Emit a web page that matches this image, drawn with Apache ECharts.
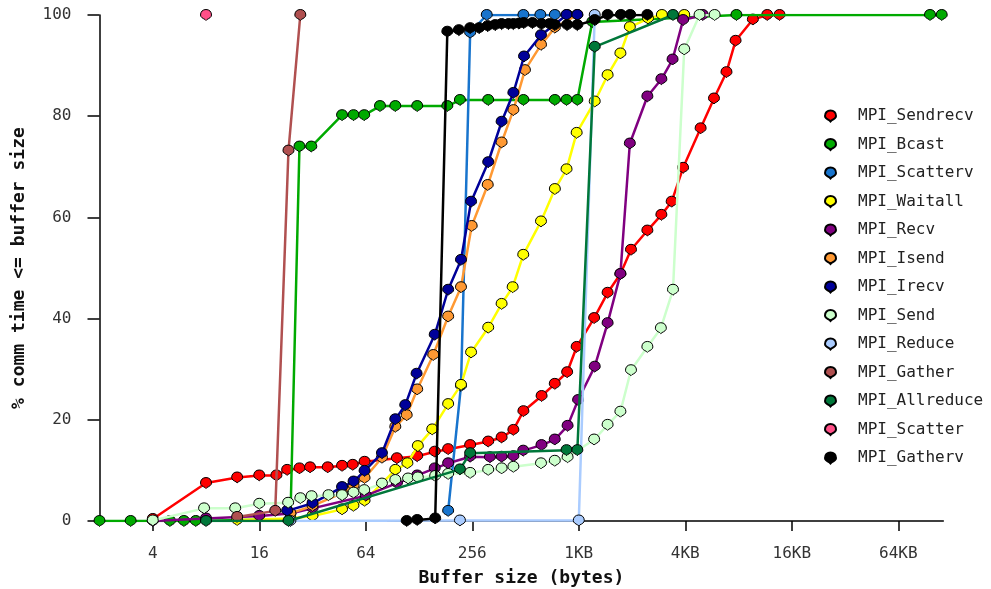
<!DOCTYPE html>
<html><head><meta charset="utf-8">
<script src="https://cdn.jsdelivr.net/npm/echarts@6/dist/echarts.min.js"></script>
<style>html,body{margin:0;padding:0;background:#fff}#c{width:991px;height:589px}</style>
</head><body><div id="c"></div>
<script>
// [buffer size (bytes), % comm time <= size]
const sendrecv = [[4,0.4],[8,7.5],[12,8.6],[16,9],[20,9],[23,10.1],[27,10.4],[31,10.6],[39,10.6],[47,10.9],[54,11.1],[63,11.7],[96,12.4],[125,12.8],[157,13.7],[187,14.2],[249,15],[315,15.7],[375,16.5],[437,18],[498,21.7],[631,24.7],[749,27.1],[880,29.4],[996,34.4],[1250,40.1],[1490,45.1],[1760,48.8],[2020,53.6],[2500,57.4],[3000,60.5],[3430,63.1],[3980,69.8],[5000,77.6],[5950,83.5],[7000,88.7],[7880,94.9],[9870,99.1],[11900,100],[13970,100]];
const bcast = [[2,0],[3,0],[5,0],[6,0],[7,0],[24,0.4],[27,74],[31.5,74],[47,80.2],[54.6,80.2],[62.7,80.2],[77,82],[94,82],[125,82],[185,82],[218,83.2],[315,83.2],[498,83.2],[750,83.2],[873,83.2],[1005,83.2],[1220,98.6],[7970,100],[99000,100],[115300,100]];
const scatterv = [[187,2],[221,26.7],[249,96.5],[309,100],[498,100],[621,100],[750,100],[880,100]];
const waitall = [[12,0.2],[24,0.5],[32,1],[47,2.3],[54.5,3],[63,4],[94,10.1],[110,11.4],[126,14.8],[152,18.1],[187,23.1],[221,26.9],[252,33.3],[315,38.2],[375,42.9],[433,46.2],[497,52.6],[626,59.2],[750,65.6],[873,69.5],[996,76.7],[1260,82.9],[1490,88.1],[1760,92.4],[1990,97.6],[2520,99.3],[3020,100],[4040,100]];
const recv = [[4,0],[8,0.5],[16,1],[24,1.5],[32,2.5],[64,5],[96,7.5],[125,9],[157,10.4],[187,11.4],[249,12.7],[322,12.6],[375,12.7],[437,12.8],[497,13.9],[630,15],[749,16.1],[885,18.8],[1015,23.9],[1260,30.5],[1490,39.1],[1760,48.8],[1990,74.6],[2500,83.9],[3000,87.3],[3470,91.2],[3980,99],[5140,100]];
const isend = [[24,1.5],[32,3],[47,5.5],[54.6,7],[63,8.5],[79,12.5],[94,18.6],[109,20.9],[125,26],[154,32.8],[187,40.4],[221,46.2],[254,58.3],[313,66.4],[375,74.8],[437,81.2],[508,89.1],[626,94.1],[750,97.5],[1005,100]];
const irecv = [[23,2],[32,3.5],[47,6.7],[54.6,7.8],[63,9.9],[79,13.4],[94,20.1],[107,22.9],[124,29.1],[157,36.8],[187,45.7],[221,51.6],[252,63.1],[315,70.9],[375,78.9],[437,84.6],[502,91.8],[626,96],[873,100],[1005,100]];
const send = [[4,0.1],[7.8,2.5],[11.7,2.5],[16,3.4],[23.3,3.6],[27.3,4.5],[31.6,4.9],[39.4,5.1],[47,5.1],[54.6,5.6],[62.7,6.1],[79,7.4],[94,8.1],[111,8.4],[126,8.6],[158,8.9],[187,9.3],[249,9.5],[315,10.1],[375,10.4],[437,10.7],[626,11.4],[749,11.9],[885,12.6],[1250,16.1],[1490,19],[1760,21.6],[2020,29.8],[2500,34.4],[2980,38.1],[3490,45.7],[4040,93.2],[4930,100],[6000,100]];
const reduce = [[24,0],[218,0.1],[1024,0.1],[1260,100]];
const gather = [[12,0.8],[19.7,2],[23.4,73.2],[27.3,100]];
const allreduce = [[8,0],[23.4,0],[218,10.2],[249,13.4],[873,14],[1005,14],[1260,93.7],[3490,100]];
const scatter = [[8,100]];
const gatherv = [[109,0],[125,0.2],[158,0.5],[185,96.7],[215,97],[249,97.4],[280,97.4],[313,97.8],[345,98],[375,98.2],[410,98.2],[437,98.2],[470,98.3],[500,98.4],[560,98.4],[630,98.2],[700,98.2],[750,98],[880,98],[1005,98],[1260,99],[1490,100],[1770,100],[2000,100],[2500,100]];

const names = ['MPI_Sendrecv','MPI_Bcast','MPI_Scatterv','MPI_Waitall','MPI_Recv','MPI_Isend','MPI_Irecv','MPI_Send','MPI_Reduce','MPI_Gather','MPI_Allreduce','MPI_Scatter','MPI_Gatherv'];
const datasets = [sendrecv,bcast,scatterv,waitall,recv,isend,irecv,send,reduce,gather,allreduce,scatter,gatherv];
const colors = ['#ff0000','#00aa00','#1874cd','#ffff00','#800080','#ff9933','#000099','#ccffcc','#aaccff','#b05050','#00773a','#ff5088','#000000'];
const xTicks = [4,16,64,256,1024,4096,16384,65536];
const xTickLabels = ['4','16','64','256','1KB','4KB','16KB','64KB'];

const MARK = 'path://M5,0 C8,0 10,2 10,5 C10,7 8,8 6,9 L5,10 L4,9 C2,8 0,7 0,5 C0,2 2,0 5,0 Z';
const FONT = 'DejaVu Sans Mono';

const chart = echarts.init(document.getElementById('c'), null, {renderer:'canvas'});
chart.setOption({
  backgroundColor:'#fff',
  animation:false,
  grid:{left:99.5, right:47.7, top:15, bottom:68, containLabel:false, outerBoundsMode:'none'},
  legend:{
    orient:'vertical', left:819, top:101, icon:MARK,
    itemWidth:11, itemHeight:11, itemGap:8.5,
    data:names,
    textStyle:{fontFamily:FONT, fontSize:16, color:'#222', lineHeight:20, padding:[0,0,0,17]}
  },
  xAxis:{
    type:'log', logBase:2, min:2, max:117700,
    name:'Buffer size (bytes)', nameLocation:'middle', nameGap:48,
    nameTextStyle:{fontFamily:FONT, fontSize:18, fontWeight:'bold', color:'#111'},
    axisLine:{lineStyle:{color:'#000', width:1.5}},
    axisTick:{length:10, customValues:xTicks, lineStyle:{color:'#000', width:1.5}},
    minorTick:{show:false},
    splitLine:{show:false},
    axisLabel:{customValues:xTicks, margin:25, fontFamily:FONT, fontSize:16, color:'#333',
      formatter:function(v){ const i = xTicks.indexOf(Math.round(v)); return i>=0 ? xTickLabels[i] : ''; }}
  },
  yAxis:{
    type:'value', min:0, max:100, interval:20,
    name:'% comm time <= buffer size', nameLocation:'middle', nameGap:71, nameRotate:90,
    nameTextStyle:{fontFamily:FONT, fontSize:18, fontWeight:'bold', color:'#111'},
    axisLine:{show:true, lineStyle:{color:'#000', width:1.5}},
    axisTick:{show:true, length:12, lineStyle:{color:'#000', width:1.5}},
    splitLine:{show:false},
    axisLabel:{margin:28, fontFamily:FONT, fontSize:16, color:'#333'}
  },
  series: names.map(function(n,i){
    return {
      name:n, type:'line', data:datasets[i],
      symbol:MARK, symbolSize:11, showSymbol:true,
      lineStyle:{color:colors[i], width:2.5},
      itemStyle:{color:colors[i], borderColor:'#000', borderWidth:1},
      emphasis:{disabled:true},
      z:2+i
    };
  })
});
</script>
</body></html>
